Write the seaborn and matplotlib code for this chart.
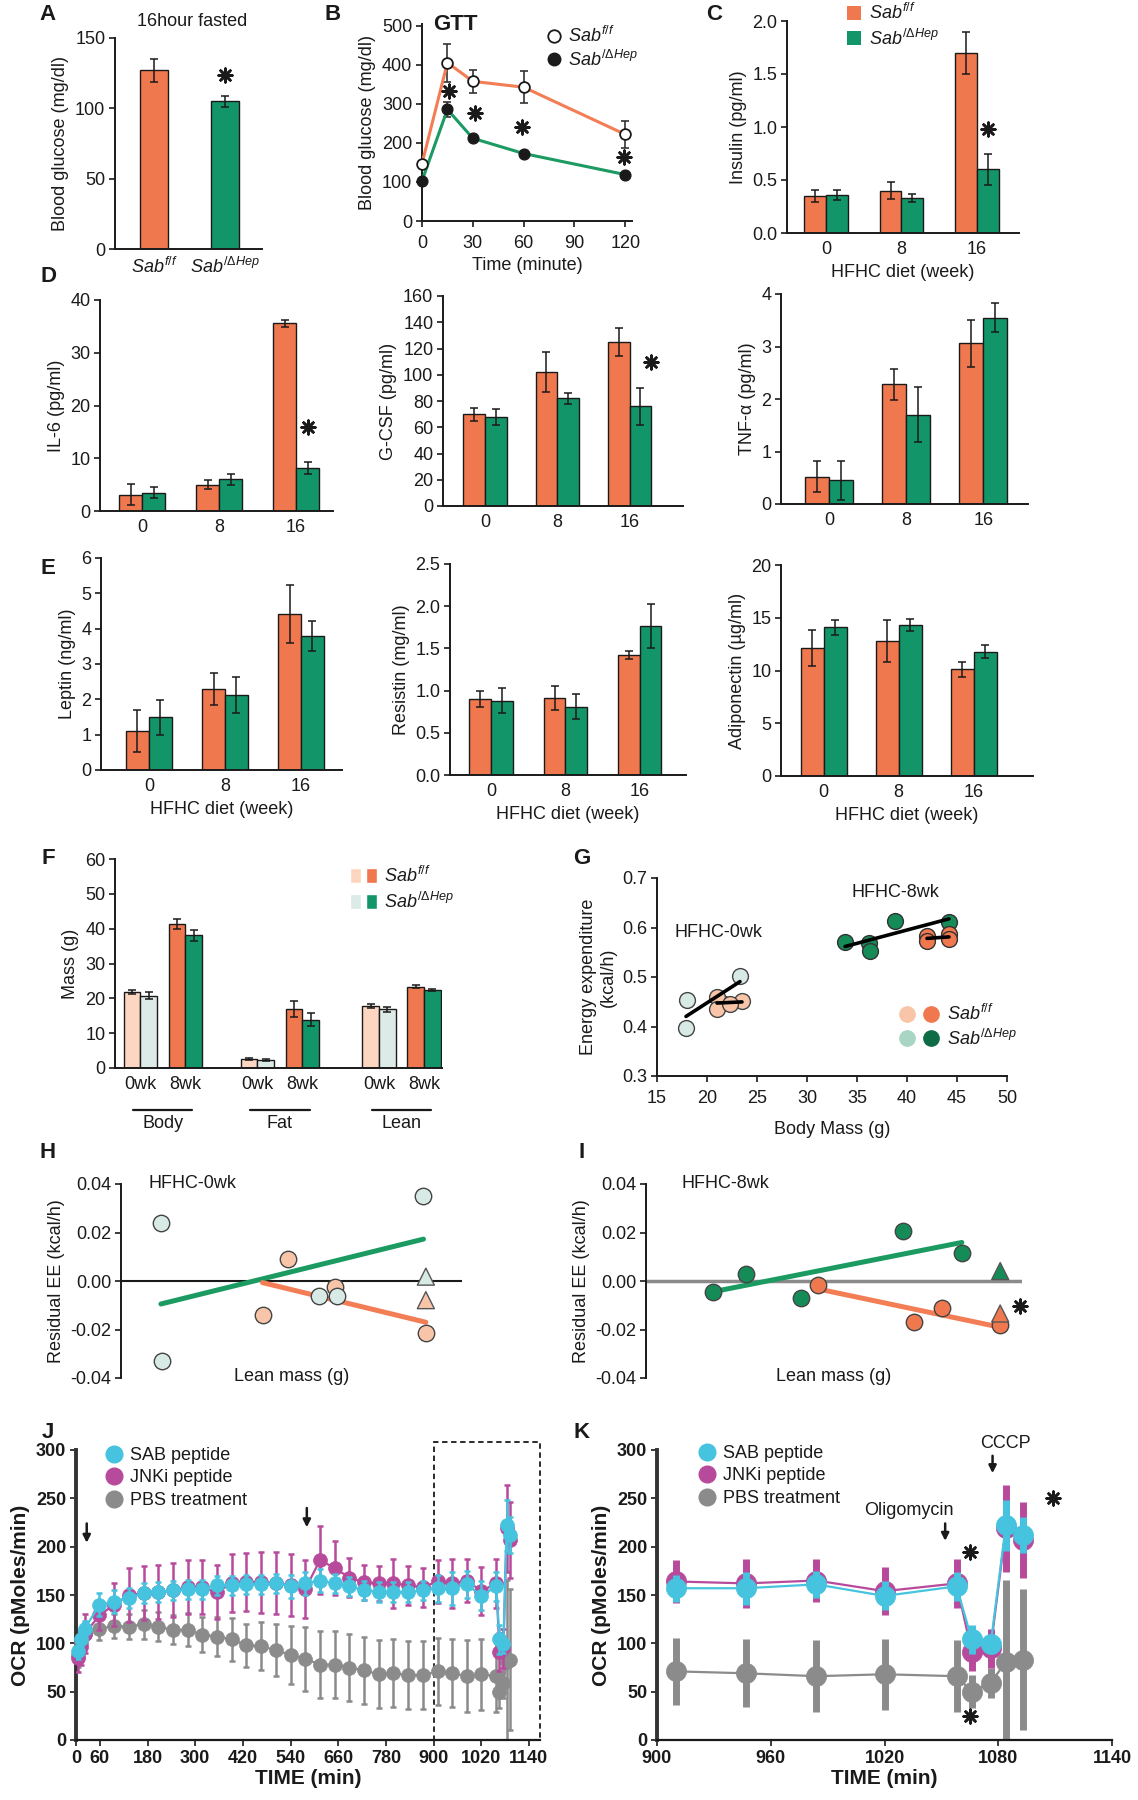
import numpy as np
import pandas as pd
import matplotlib
matplotlib.use("Agg")
import matplotlib.pyplot as plt
import seaborn as sns
from matplotlib.patches import Patch, Rectangle
from matplotlib.lines import Line2D
from matplotlib.legend_handler import HandlerTuple

# ---------------------------------------------------------------- data
genotypes = ["Sab f/f", "Sab dHep"]
geno_labels = [r"$Sab^{f/f}$", r"$Sab^{/\Delta Hep}$"]
weeks = ["0", "8", "16"]

# A  fasting glucose
fast_glucose = [127, 105]
fast_glucose_err = [8, 4]
fast_star = (1, 124)

# B  GTT
gtt_time = [0, 15, 30, 60, 120]
gtt_ff = [147, 406, 358, 343, 222]
gtt_ff_err = [6, 49, 30, 41, 35]
gtt_hep = [103, 286, 212, 173, 119]
gtt_hep_err = [5, 19, 6, 6, 5]
gtt_star_time = [16, 31, 59, 119]
gtt_star_y = [332, 277, 241, 165]

# C  insulin
insulin_ff = [0.35, 0.40, 1.70]
insulin_ff_err = [0.06, 0.08, 0.20]
insulin_hep = [0.36, 0.33, 0.60]
insulin_hep_err = [0.05, 0.04, 0.15]
insulin_star = (2.15, 0.98)

# D  cytokines
il6_ff = [3.1, 5.0, 35.6]
il6_ff_err = [2.0, 0.8, 0.7]
il6_hep = [3.5, 6.0, 8.2]
il6_hep_err = [1.1, 1.0, 1.1]
il6_star = (2.15, 16)
gcsf_ff = [70, 102, 125]
gcsf_ff_err = [5, 15.5, 11]
gcsf_hep = [68, 82, 76]
gcsf_hep_err = [6, 4, 14]
gcsf_star = (2.3, 110)
tnf_ff = [0.52, 2.28, 3.06]
tnf_ff_err = [0.30, 0.30, 0.45]
tnf_hep = [0.45, 1.70, 3.55]
tnf_hep_err = [0.37, 0.52, 0.28]

# E  adipokines
leptin_ff = [1.11, 2.29, 4.42]
leptin_ff_err = [0.60, 0.45, 0.83]
leptin_hep = [1.49, 2.12, 3.80]
leptin_hep_err = [0.50, 0.50, 0.43]
resistin_ff = [0.90, 0.91, 1.42]
resistin_ff_err = [0.10, 0.14, 0.05]
resistin_hep = [0.88, 0.81, 1.77]
resistin_hep_err = [0.15, 0.15, 0.26]
adipo_ff = [12.1, 12.8, 10.1]
adipo_ff_err = [1.7, 2.0, 0.7]
adipo_hep = [14.1, 14.3, 11.8]
adipo_hep_err = [0.7, 0.6, 0.6]

# F  body composition
f_pos = [0, 1, 2.6, 3.6, 5.3, 6.3]
f_week_labels = ["0wk", "8wk", "0wk", "8wk", "0wk", "8wk"]
f_groups = ["Body", "Fat", "Lean"]
f_ff = [21.8, 41.3, 2.6, 17.0, 17.8, 23.3]
f_ff_err = [0.5, 1.5, 0.3, 2.3, 0.6, 0.4]
f_hep = [20.8, 38.1, 2.2, 13.9, 16.8, 22.4]
f_hep_err = [1.0, 1.5, 0.3, 1.8, 0.8, 0.3]

# G  energy expenditure vs body mass
g0_hep_x = [18.0, 17.9, 23.3, 21.5]
g0_hep_y = [0.453, 0.396, 0.503, 0.448]
g0_ff_x = [21.0, 21.0, 23.5, 22.3]
g0_ff_y = [0.460, 0.436, 0.451, 0.446]
g8_hep_x = [33.8, 36.2, 36.3, 38.8, 44.2]
g8_hep_y = [0.570, 0.568, 0.553, 0.614, 0.612]
g8_ff_x = [42.0, 42.0, 44.2, 44.2]
g8_ff_y = [0.583, 0.573, 0.586, 0.576]

# H / I  residual EE vs lean mass (arbitrary lean-mass units, no ticks)
h_hep_x = [1.17, 1.21, 5.81, 6.32, 8.87]
h_hep_y = [0.0241, -0.0331, -0.0062, -0.0062, 0.0349]
h_ff_x = [4.89, 4.15, 6.28, 8.94]
h_ff_y = [0.0090, -0.0141, -0.0023, -0.0214]
h_tri_x = [8.94, 8.94]
h_tri_y = [0.0018, -0.0079]
i_hep_x = [1.77, 2.65, 4.13, 6.83, 8.40]
i_hep_y = [-0.0044, 0.0029, -0.0072, 0.0208, 0.0114]
i_ff_x = [4.58, 7.13, 7.88, 9.42]
i_ff_y = [-0.0017, -0.0168, -0.0113, -0.0182]
i_tri_x = [9.42, 9.42]
i_tri_y = [0.0041, -0.0134]
i_star = (9.95, -0.0103)

# J / K  OCR time course
ocr_time = [5, 13, 22, 59, 96, 133, 170, 207, 244, 281, 318, 355, 392, 429, 466,
            503, 540, 577, 614, 651, 688, 725, 762, 799, 836, 873, 910, 947, 984,
            1020, 1058, 1066, 1076, 1084, 1093]
sab_ocr = [92, 105, 115, 140, 143, 147, 152, 153, 155, 156, 156, 160, 160, 161, 161,
           162, 159, 162, 165, 162, 159, 155, 153, 153, 153, 155, 157, 157, 161,
           149, 159, 104, 99, 222, 212]
sab_err = [8, 8, 8, 12, 12, 10, 10, 10, 10, 10, 10, 10, 10, 10, 10,
           10, 12, 12, 12, 10, 10, 10, 10, 10, 10, 10, 14, 17, 14,
           15, 15, 15, 9, 26, 19]
jnk_ocr = [85, 96, 110, 129, 140, 150, 152, 153, 155, 158, 158, 153, 162, 163, 163,
           162, 160, 156, 186, 178, 168, 163, 162, 162, 160, 158, 164, 162, 165,
           154, 162, 91, 95, 219, 207]
jnk_err = [15, 18, 20, 15, 22, 28, 28, 28, 28, 28, 28, 28, 30, 30, 32,
           32, 32, 30, 35, 28, 20, 18, 18, 25, 20, 20, 22, 25, 22,
           25, 25, 20, 20, 45, 39]
pbs_ocr = [88, 100, 110, 115, 118, 117, 120, 117, 114, 114, 109, 107, 104, 98, 97,
           93, 88, 84, 78, 78, 75, 72, 68, 69, 67, 67, 71, 69, 66,
           68, 66, 50, 59, 81, 83]
pbs_err = [12, 12, 12, 12, 12, 13, 15, 15, 15, 17, 18, 20, 22, 22, 25,
           27, 30, 33, 35, 35, 35, 35, 35, 35, 35, 35, 35, 35, 37,
           37, 37, 17, 16, 85, 73]
ocr_series = ["SAB peptide", "JNKi peptide", "PBS treatment"]
j_arrow_t = [27, 581]
j_arrow_top = [224, 240]
k_window = (900, 1140)
k_oligo = (1052, 224, "Oligomycin", 1033, 237)
k_cccp = (1077, 294, "CCCP", 1084, 307)
k_stars_t = [1065, 1065, 1109]
k_stars_y = [194, 25, 250]

# ---------------------------------------------------------------- style
ORANGE = "#F0784F"
GREEN = "#13956A"
LINE_OR = "#F37D55"
LINE_GR = "#1B9A62"
LIGHT_OR = "#FCD6C1"
LIGHT_GR = "#DCEBE7"
G_LIGHT_OR = "#F9C5A9"
G_LIGHT_GR = "#D8EAE5"
G_DARK_GR = "#158C58"
LEG_LIGHT_GR = "#A9D5C5"
LEG_DARK_GR = "#0D6B45"
CYAN = "#45C3DF"
MAGENTA = "#B84A9C"
GRAY = "#8B8B8B"
INK = "#1a1a1a"

sns.set_theme(style="ticks")
plt.rcParams["font.family"] = ["Liberation Sans", "DejaVu Sans"]
plt.rcParams.update({
    "mathtext.fontset": "custom",
    "mathtext.rm": "Liberation Sans",
    "mathtext.it": "Liberation Sans:italic",
    "mathtext.bf": "Liberation Sans:bold",
    "font.size": 13, "axes.labelsize": 13,
    "xtick.labelsize": 13, "ytick.labelsize": 13,
    "axes.linewidth": 1.4, "axes.edgecolor": INK,
    "xtick.color": INK, "ytick.color": INK,
    "text.color": INK, "axes.labelcolor": INK,
    "legend.fontsize": 13,
})

W, H = 1138, 1800
fig = plt.figure(figsize=(W / 100, H / 100), dpi=100)
fig.patch.set_facecolor("white")


def add_ax(l, t, r, b):
    return fig.add_axes([l / W, 1 - b / H, (r - l) / W, (b - t) / H])


def style(ax, xtick_len=0):
    sns.despine(ax=ax)
    ax.tick_params(axis="y", length=4, width=1.2, pad=3)
    ax.tick_params(axis="x", length=xtick_len, width=1.2, pad=6)


def star(ax, x, y, size=95):
    ax.scatter([x], [y], marker=(8, 2, 0), s=size, c=INK, linewidths=1.9,
               zorder=10, clip_on=False)


def arrow(ax, x, y_top, length):
    ax.annotate("", xy=(x, y_top - length), xytext=(x, y_top),
                arrowprops=dict(arrowstyle="-|>", color=INK, lw=1.8,
                                mutation_scale=11, shrinkA=0, shrinkB=0))


def legend_at(ax, handles, labels, x_px, y_px, **kw):
    return ax.legend(handles, labels, loc="upper left",
                     bbox_to_anchor=(x_px / W, 1 - y_px / H),
                     bbox_transform=fig.transFigure, frameon=False,
                     borderaxespad=0, borderpad=0, **kw)


def grouped(ax, cats, ff, ffe, hep, hepe, width):
    df = pd.DataFrame({"cat": list(cats) * 2, "val": list(ff) + list(hep),
                       "geno": [genotypes[0]] * len(cats) + [genotypes[1]] * len(cats)})
    sns.barplot(data=df, x="cat", y="val", hue="geno", order=cats,
                hue_order=genotypes, palette=[ORANGE, GREEN], saturation=1,
                width=width, edgecolor=INK, linewidth=1.0, errorbar=None,
                legend=False, ax=ax)
    bars = sorted(ax.patches, key=lambda p: p.get_x())
    vals = [v for pair in zip(ff, hep) for v in pair]
    errs = [e for pair in zip(ffe, hepe) for e in pair]
    xs = [p.get_x() + p.get_width() / 2 for p in bars]
    ax.errorbar(xs, vals, yerr=errs, fmt="none", ecolor=INK, elinewidth=1.1,
                capsize=3, capthick=1.1, zorder=5)
    ax.set_xlabel("")
    style(ax)
    return xs


def panel_letter(ch, x, y):
    fig.text(x / W, 1 - y / H, ch, fontsize=16, fontweight="bold",
             ha="center", va="center")


# ---------------------------------------------------------------- A
axA = add_ax(115, 38, 262, 249)
sns.barplot(x=genotypes, y=fast_glucose, hue=genotypes, palette=[ORANGE, GREEN],
            saturation=1, width=0.4, edgecolor=INK, linewidth=1.0,
            errorbar=None, legend=False, ax=axA)
barsA = sorted(axA.patches, key=lambda p: p.get_x())
axA.errorbar([p.get_x() + p.get_width() / 2 for p in barsA], fast_glucose,
             yerr=fast_glucose_err, fmt="none", ecolor=INK, elinewidth=1.1,
             capsize=3, capthick=1.1, zorder=5)
style(axA)
axA.set_xlim(-0.55, 1.52)
axA.set_ylim(0, 150)
axA.set_yticks([0, 50, 100, 150])
axA.set_xticks([0, 1])
axA.set_xticklabels(geno_labels)
axA.set_ylabel("Blood glucose (mg/dl)")
star(axA, *fast_star)
fig.text(192 / W, 1 - 21 / H, "16hour fasted", fontsize=13, ha="center", va="center")

# ---------------------------------------------------------------- B
axB = add_ax(422, 24, 632, 221)
axB.errorbar(gtt_time, gtt_ff, yerr=gtt_ff_err, fmt="none", ecolor="#333333",
             elinewidth=1.2, capsize=3, capthick=1.2, zorder=2)
axB.errorbar(gtt_time, gtt_hep, yerr=gtt_hep_err, fmt="none", ecolor="#333333",
             elinewidth=1.2, capsize=3, capthick=1.2, zorder=2)
sns.lineplot(x=gtt_time, y=gtt_ff, color=LINE_OR, lw=2.2, ax=axB, zorder=3)
sns.lineplot(x=gtt_time, y=gtt_hep, color=LINE_GR, lw=2.2, ax=axB, zorder=3)
sns.scatterplot(x=gtt_time, y=gtt_ff, color="white", edgecolor=INK, linewidth=1.3,
                s=60, ax=axB, zorder=6, clip_on=False)
sns.scatterplot(x=gtt_time, y=gtt_hep, color=INK, edgecolor=INK, linewidth=1,
                s=60, ax=axB, zorder=6, clip_on=False)
style(axB, xtick_len=4)
axB.set_xlim(0, 124)
axB.set_ylim(0, 505)
axB.set_xticks([0, 30, 60, 90, 120])
axB.set_yticks([0, 100, 200, 300, 400, 500])
axB.set_xlabel("Time (minute)")
axB.set_ylabel("Blood glucose (mg/dl)")
axB.text(0.16, 1.0, "GTT", transform=axB.transAxes, fontsize=16,
         fontweight="bold", ha="center", va="center")
for t, y in zip(gtt_star_time, gtt_star_y):
    star(axB, t, y)
hB = [Line2D([], [], marker="o", ls="none", mfc="white", mec=INK, mew=1.3, ms=9),
      Line2D([], [], marker="o", ls="none", mfc=INK, mec=INK, ms=9)]
legend_at(axB, hB, geno_labels, 545, 26, handlelength=1.0, handletextpad=0.3,
          labelspacing=0.2)

# ---------------------------------------------------------------- C
axC = add_ax(787, 21, 1019, 233)
grouped(axC, weeks, insulin_ff, insulin_ff_err, insulin_hep, insulin_hep_err, 0.58)
axC.set_xlim(-0.52, 2.56)
axC.set_ylim(0, 2.0)
axC.set_yticks([0, 0.5, 1.0, 1.5, 2.0])
axC.set_yticklabels(["0.0", "0.5", "1.0", "1.5", "2.0"])
axC.set_xlabel("HFHC diet (week)")
axC.set_ylabel("Insulin (pg/ml)")
star(axC, *insulin_star)
hC = [Patch(facecolor=ORANGE, edgecolor="none"), Patch(facecolor=GREEN, edgecolor="none")]
legend_at(axC, hC, geno_labels, 847, 3, handlelength=0.8, handleheight=0.8,
          handletextpad=0.4, labelspacing=0.3)

# ---------------------------------------------------------------- D
axD1 = add_ax(100, 300, 333, 511)
grouped(axD1, weeks, il6_ff, il6_ff_err, il6_hep, il6_hep_err, 0.6)
axD1.set_xlim(-0.55, 2.48)
axD1.set_ylim(0, 40)
axD1.set_yticks([0, 10, 20, 30, 40])
axD1.set_ylabel("IL-6 (pg/ml)")
star(axD1, *il6_star)

axD2 = add_ax(443, 296, 683, 506)
grouped(axD2, weeks, gcsf_ff, gcsf_ff_err, gcsf_hep, gcsf_hep_err, 0.6)
axD2.set_xlim(-0.58, 2.74)
axD2.set_ylim(0, 160)
axD2.set_yticks(range(0, 161, 20))
axD2.set_ylabel("G-CSF (pg/ml)")
star(axD2, *gcsf_star)

axD3 = add_ax(781, 294, 1028, 504)
grouped(axD3, weeks, tnf_ff, tnf_ff_err, tnf_hep, tnf_hep_err, 0.62)
axD3.set_xlim(-0.62, 2.58)
axD3.set_ylim(0, 4)
axD3.set_yticks([0, 1, 2, 3, 4])
axD3.set_ylabel("TNF-\u03b1 (pg/ml)")

# ---------------------------------------------------------------- E
axE1 = add_ax(101, 558, 342, 770)
grouped(axE1, weeks, leptin_ff, leptin_ff_err, leptin_hep, leptin_hep_err, 0.6)
axE1.set_xlim(-0.63, 2.54)
axE1.set_ylim(0, 6)
axE1.set_yticks(range(0, 7))
axE1.set_ylabel("Leptin (ng/ml)")
axE1.set_xlabel("HFHC diet (week)")

axE2 = add_ax(450, 564, 686, 775)
grouped(axE2, weeks, resistin_ff, resistin_ff_err, resistin_hep, resistin_hep_err, 0.58)
axE2.set_xlim(-0.55, 2.62)
axE2.set_ylim(0, 2.5)
axE2.set_yticks([0, 0.5, 1.0, 1.5, 2.0, 2.5])
axE2.set_yticklabels(["0.0", "0.5", "1.0", "1.5", "2.0", "2.5"])
axE2.set_ylabel("Resistin (mg/ml)")
axE2.set_xlabel("HFHC diet (week)")

axE3 = add_ax(781, 565, 1033, 776)
grouped(axE3, weeks, adipo_ff, adipo_ff_err, adipo_hep, adipo_hep_err, 0.62)
axE3.set_xlim(-0.57, 2.79)
axE3.set_ylim(0, 20)
axE3.set_yticks([0, 5, 10, 15, 20])
axE3.set_ylabel("Adiponectin (\u00b5g/ml)")
axE3.set_xlabel("HFHC diet (week)")

# ---------------------------------------------------------------- F
axF = add_ax(115, 859, 442, 1068)
dfF = pd.DataFrame({"pos": f_pos * 2, "val": f_ff + f_hep,
                    "geno": [genotypes[0]] * 6 + [genotypes[1]] * 6})
sns.barplot(data=dfF, x="pos", y="val", hue="geno", hue_order=genotypes,
            native_scale=True, palette=[ORANGE, GREEN], saturation=1, width=0.74,
            edgecolor=INK, linewidth=1.0, errorbar=None, legend=False, ax=axF)
barsF = sorted(axF.patches, key=lambda p: p.get_x())
f_colors = [LIGHT_OR, LIGHT_GR, ORANGE, GREEN] * 3
for p, c in zip(barsF, f_colors):
    p.set_facecolor(c)
axF.errorbar([p.get_x() + p.get_width() / 2 for p in barsF],
             [v for pair in zip(f_ff, f_hep) for v in pair],
             yerr=[e for pair in zip(f_ff_err, f_hep_err) for e in pair],
             fmt="none", ecolor=INK, elinewidth=1.1, capsize=3, capthick=1.1, zorder=5)
style(axF)
axF.set_xlim(-0.56, 6.7)
axF.set_ylim(0, 60)
axF.set_yticks(range(0, 61, 10))
axF.set_xticks(f_pos)
axF.set_xticklabels(f_week_labels)
axF.set_xlabel("")
axF.set_ylabel("Mass (g)")
trF = axF.get_xaxis_transform()
for k, g in enumerate(f_groups):
    c = (f_pos[2 * k] + f_pos[2 * k + 1]) / 2
    axF.plot([c - 0.66, c + 0.66], [-0.2, -0.2], color=INK, lw=1.6,
             transform=trF, clip_on=False)
    axF.text(c, -0.265, g, transform=trF, ha="center", va="center", fontsize=13)
hF = [(Patch(facecolor=LIGHT_OR), Patch(facecolor=ORANGE)),
      (Patch(facecolor=LIGHT_GR), Patch(facecolor=GREEN))]
legend_at(axF, hF, geno_labels, 350, 866, handlelength=1.5, handleheight=0.9,
          handletextpad=0.4, labelspacing=0.3,
          handler_map={tuple: HandlerTuple(ndivide=None, pad=0.25)})

# ---------------------------------------------------------------- G
axG = add_ax(657, 878, 1007, 1076)
sns.scatterplot(x=g0_hep_x, y=g0_hep_y, color=G_LIGHT_GR, edgecolor="#444444",
                linewidth=1, s=130, ax=axG, zorder=3)
sns.scatterplot(x=g0_ff_x, y=g0_ff_y, color=G_LIGHT_OR, edgecolor="#444444",
                linewidth=1, s=130, ax=axG, zorder=3)
sns.scatterplot(x=g8_hep_x, y=g8_hep_y, color=G_DARK_GR, edgecolor="#333333",
                linewidth=1, s=130, ax=axG, zorder=3)
sns.scatterplot(x=g8_ff_x, y=g8_ff_y, color=ORANGE, edgecolor="#333333",
                linewidth=1, s=130, ax=axG, zorder=3)
for xs_, ys_ in [(g0_hep_x, g0_hep_y), (g0_ff_x, g0_ff_y),
                 (g8_hep_x, g8_hep_y), (g8_ff_x, g8_ff_y)]:
    sns.regplot(x=xs_, y=ys_, scatter=False, ci=None, truncate=True,
                color="black", line_kws=dict(lw=2.6, zorder=4), ax=axG)
style(axG, xtick_len=4)
axG.set_xlim(15, 50)
axG.set_ylim(0.3, 0.7)
axG.set_xticks(range(15, 51, 5))
axG.set_yticks([0.3, 0.4, 0.5, 0.6, 0.7])
axG.set_yticklabels(["0.3", "0.4", "0.5", "0.6", "0.7"])
axG.set_xlabel("Body Mass (g)", labelpad=10)
axG.set_ylabel("Energy expenditure\n(kcal/h)")
axG.text(21.2, 0.589, "HFHC-0wk", ha="center", va="center", fontsize=13)
axG.text(38.8, 0.670, "HFHC-8wk", ha="center", va="center", fontsize=13)
hG = [(Line2D([], [], marker="o", ls="none", color=G_LIGHT_OR, ms=11),
       Line2D([], [], marker="o", ls="none", color=ORANGE, ms=11)),
      (Line2D([], [], marker="o", ls="none", color=LEG_LIGHT_GR, ms=11),
       Line2D([], [], marker="o", ls="none", color=LEG_DARK_GR, ms=11))]
legend_at(axG, hG, geno_labels, 898, 1004, handlelength=2.3, handletextpad=0.4,
          labelspacing=0.25, handler_map={tuple: HandlerTuple(ndivide=None, pad=0.3)})

# ---------------------------------------------------------------- H / I
def residual_panel(ax, hx, hy, fx, fy, hep_col, ff_col, tri_x, tri_y, tri_cols,
                   zero_col, zero_lw, title):
    ax.axhline(0, color=zero_col, lw=zero_lw, zorder=1)
    sns.regplot(x=hx, y=hy, scatter=False, ci=None, truncate=True, color=LINE_GR,
                line_kws=dict(lw=3.6, zorder=2), ax=ax)
    sns.regplot(x=fx, y=fy, scatter=False, ci=None, truncate=True, color=LINE_OR,
                line_kws=dict(lw=3.6, zorder=2), ax=ax)
    sns.scatterplot(x=hx, y=hy, color=hep_col, edgecolor="#444444", linewidth=1,
                    s=140, ax=ax, zorder=4)
    sns.scatterplot(x=fx, y=fy, color=ff_col, edgecolor="#444444", linewidth=1,
                    s=140, ax=ax, zorder=3)
    sns.scatterplot(x=tri_x, y=tri_y, hue=["a", "b"], palette=tri_cols,
                    marker="^", edgecolor="#555555", linewidth=1, s=150,
                    legend=False, ax=ax, zorder=5)
    sns.despine(ax=ax, bottom=True)
    ax.tick_params(axis="y", length=4, width=1.2, pad=3)
    ax.set_xticks([])
    ax.set_xlim(0, 10)
    ax.set_ylim(-0.04, 0.04)
    ax.set_yticks([-0.04, -0.02, 0.0, 0.02, 0.04])
    ax.set_yticklabels(["-0.04", "-0.02", "0.00", "0.02", "0.04"])
    ax.set_ylabel("Residual EE (kcal/h)")
    ax.text(5.0, -0.0395, "Lean mass (g)", ha="center", va="center", fontsize=13)
    ax.text(2.1, 0.04, title, ha="center", va="center", fontsize=13)


axH = add_ax(121, 1184, 462, 1378)
residual_panel(axH, h_hep_x, h_hep_y, h_ff_x, h_ff_y, G_LIGHT_GR, G_LIGHT_OR,
               h_tri_x, h_tri_y, [G_LIGHT_GR, G_LIGHT_OR], INK, 1.5, "HFHC-0wk")
axI = add_ax(646, 1184, 1022, 1378)
residual_panel(axI, i_hep_x, i_hep_y, i_ff_x, i_ff_y, G_DARK_GR, ORANGE,
               i_tri_x, i_tri_y, [G_DARK_GR, ORANGE], "#8a8a8a", 2.5, "HFHC-8wk")
star(axI, *i_star)

# ---------------------------------------------------------------- J / K
def draw_ocr(ax, t, big):
    t = np.asarray(t)
    sel = (t >= ax.get_xlim()[0])
    series = [(pbs_ocr, pbs_err, GRAY), (jnk_ocr, jnk_err, MAGENTA), (sab_ocr, sab_err, CYAN)]
    for z, (v, e, col) in enumerate(series):
        v = np.asarray(v)[sel]
        e = np.asarray(e)[sel]
        tt = t[sel]
        zb = 2 + 3 * z
        ax.errorbar(tt, v, yerr=e, fmt="none", ecolor=col,
                    elinewidth=5 if big else 1.8, capsize=0 if big else 2.5,
                    capthick=1.8, zorder=zb)
        sns.lineplot(x=tt, y=v, color=col, lw=1.6, ax=ax, zorder=zb + 0.5)
        sns.scatterplot(x=tt, y=v, color=col, edgecolor=col, linewidth=0.5,
                        s=210 if big else 100, ax=ax, zorder=zb + 1, clip_on=False)


def ocr_style(ax):
    sns.despine(ax=ax)
    ax.spines["left"].set_linewidth(2.8)
    ax.spines["left"].set_color("#333333")
    ax.spines["bottom"].set_linewidth(1.6)
    ax.tick_params(axis="both", length=4, width=1.2, pad=3)
    ax.set_ylim(0, 300)
    ax.set_yticks(range(0, 301, 50))
    ax.set_ylabel("OCR (pMoles/min)", fontsize=15, fontweight="bold")
    ax.set_xlabel("TIME (min)", fontsize=15, fontweight="bold", labelpad=2)
    for lbl in ax.get_xticklabels() + ax.get_yticklabels():
        lbl.set_fontweight("bold")


ocr_handles = [Line2D([], [], marker="o", ls="none", color=c, ms=12)
               for c in (CYAN, MAGENTA, GRAY)]

axJ = add_ax(76, 1450, 540, 1740)
axJ.set_xlim(0, 1168)
draw_ocr(axJ, ocr_time, big=False)
axJ.set_xlim(0, 1168)
axJ.set_xticks([0, 60, 180, 300, 420, 540, 660, 780, 900, 1020, 1140])
ocr_style(axJ)
axJ.add_patch(Rectangle((k_window[0], 0), 1168 - k_window[0], 308, fill=False,
                        ls=(0, (3, 2)), lw=1.3, ec=INK, clip_on=False, zorder=1))
for t, y in zip(j_arrow_t, j_arrow_top):
    arrow(axJ, t, y, 20)
legend_at(axJ, ocr_handles, ocr_series, 105, 1447, handlelength=1.0,
          handletextpad=0.4, labelspacing=0.3)

axK = add_ax(657, 1450, 1112, 1740)
axK.set_xlim(*k_window)
draw_ocr(axK, ocr_time, big=True)
axK.set_xlim(*k_window)
axK.set_xticks([900, 960, 1020, 1080, 1140])
ocr_style(axK)
for (ta, ya, label, tx, ty) in (k_oligo, k_cccp):
    arrow(axK, ta, ya, 18)
    axK.text(tx, ty, label, ha="center", va="center", fontsize=13, clip_on=False)
for t, y in zip(k_stars_t, k_stars_y):
    star(axK, t, y)
legend_at(axK, ocr_handles, ocr_series, 698, 1445, handlelength=1.0,
          handletextpad=0.4, labelspacing=0.3)

# ---------------------------------------------------------------- letters
for ch, x, y in [("A", 48, 14), ("B", 333, 14), ("C", 714, 14), ("D", 48, 276),
                 ("E", 48, 568), ("F", 48, 859), ("G", 582, 859), ("H", 48, 1153),
                 ("I", 582, 1153), ("J", 48, 1433), ("K", 582, 1433)]:
    panel_letter(ch, x, y)

fig.savefig("out.png", dpi=100, facecolor="white")
